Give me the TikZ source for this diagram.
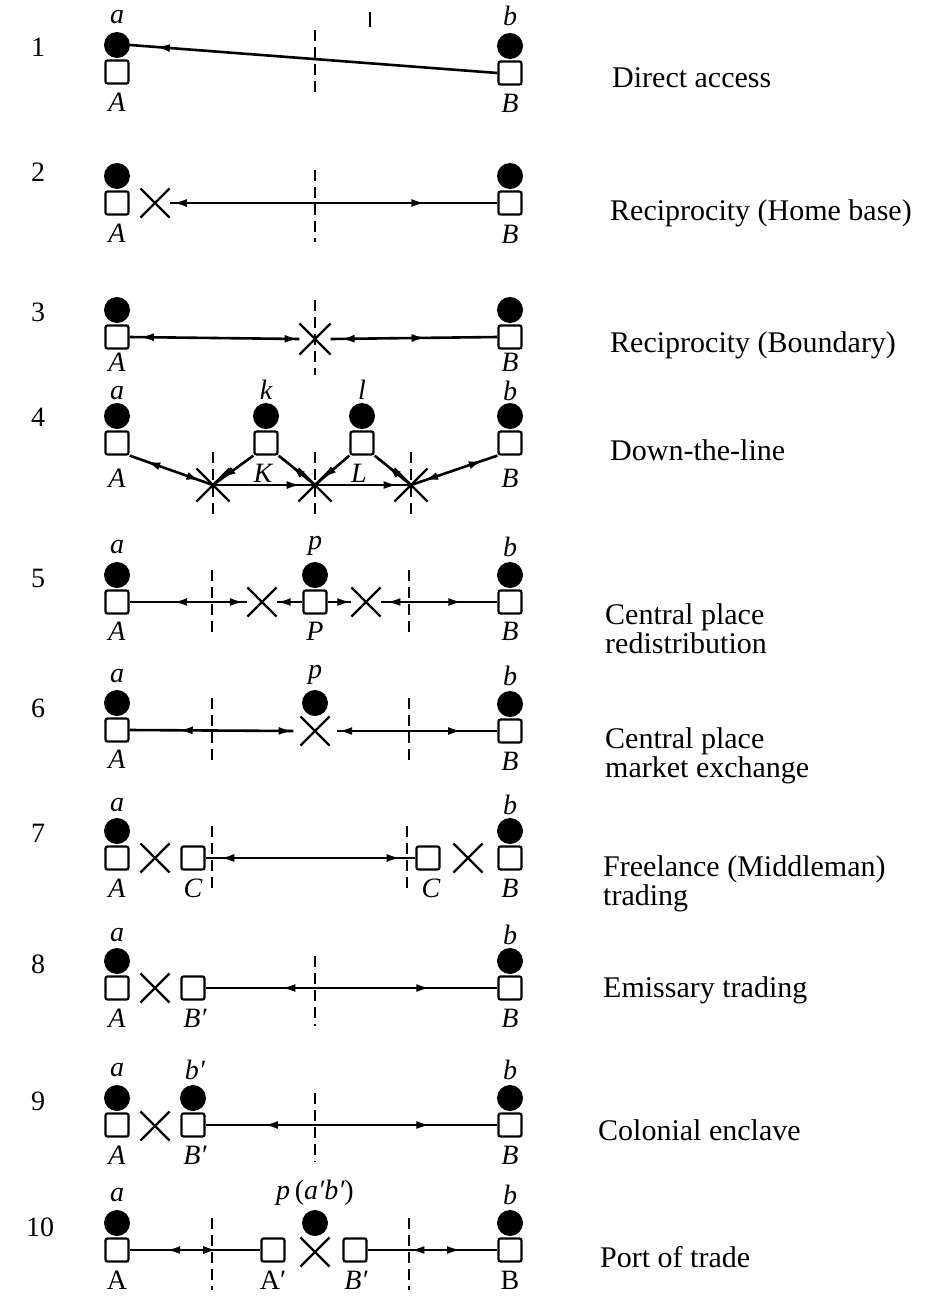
\documentclass[tikz,border=0pt]{standalone}
\usepackage{fontspec}
\setmainfont{Liberation Serif}
\usetikzlibrary{arrows.meta,decorations.markings,shapes.misc}
\tikzset{
 pers/.style={circle,fill=black,minimum size=26pt,inner sep=0pt},
 site/.style={draw,line width=2.2pt,minimum size=23pt,inner sep=0pt,rounded corners=2pt,fill=white},
 xmark/.style={cross out,draw,line width=2.2pt,minimum size=27pt,inner sep=0pt},
 lnk/.style={line width=2.6pt},
 bnd/.style={line width=2.2pt,dash pattern=on 11pt off 6pt},
 fw/.style={postaction={decorate,decoration={markings,mark=at position #1 with {\arrow{Latex[length=14pt,width=8pt]}}}}},
 bw/.style={postaction={decorate,decoration={markings,mark=at position #1 with {\arrowreversed{Latex[length=14pt,width=8pt]}}}}},
 lab/.style={font=\fontsize{28}{30}\selectfont\itshape,inner sep=0pt},
 ulab/.style={font=\fontsize{28}{30}\selectfont,inner sep=0pt},
 num/.style={font=\fontsize{28}{30}\selectfont,inner sep=0pt},
 desc/.style={font=\fontsize{30}{29}\selectfont,anchor=west,align=left,inner sep=0pt},
}
\begin{document}
\begin{tikzpicture}[x=1pt,y=-1pt]
\useasboundingbox (0,0) rectangle (936,1296);
% ---------- Row 1
\node[num] (n1) at (38,47) {1};
\node[pers] (r1a) at (117,45) {};
\node[site] (r1A) at (117,72) {};
\node[pers] (r1b) at (510,46) {};
\node[site] (r1B) at (510,73) {};
\node[lab] (l1a) at (117,17) {a};
\node[lab] (l1b) at (510,16) {b};
\node[lab] (l1A) at (117,102) {A};
\node[lab] (l1B) at (510,103) {B};
\draw[bnd] (315,30) -- (315,97);
\draw[line width=1.6pt] (370,12) -- (370,27);
\draw[lnk,fw=0.93] (r1B.west) -- (r1a.east);
\node[desc] (d1) at (612,78) {Direct access};
% ---------- Row 2
\node[num] (n2) at (38,172) {2};
\node[pers] (r2a) at (117,176) {};
\node[site] (r2A) at (117,203) {};
\node[pers] (r2b) at (510,176) {};
\node[site] (r2B) at (510,203) {};
\node[lab] (l2A) at (117,233) {A};
\node[lab] (l2B) at (510,234) {B};
\node[xmark] (r2x) at (155,203) {};
\draw[bnd] (315,170) -- (315,242);
\draw[lnk,bw=0.01,fw=0.78] (r2x.east) -- (r2B.west);
\node[desc] (d2) at (610,213) {Reciprocity (Home base)};
% ---------- Row 3
\node[num] (n3) at (38,312) {3};
\node[pers] (r3a) at (117,310) {};
\node[site] (r3A) at (117,337) {};
\node[pers] (r3b) at (510,310) {};
\node[site] (r3B) at (510,337) {};
\node[lab] (l3A) at (117,362) {A};
\node[lab] (l3B) at (510,362) {B};
\node[xmark,minimum size=29pt] (r3x) at (315,339) {};
\draw[bnd] (315,300) -- (315,375);
\draw[lnk,bw=0.06,fw=0.995] (r3A.east) -- (r3x.west);
\draw[lnk,bw=0.06,fw=0.57] (r3x.east) -- (r3B.west);
\node[desc] (d3) at (610,345) {Reciprocity (Boundary)};
% ---------- Row 4
\node[num] (n4) at (38,417) {4};
\node[pers] (r4a) at (117,416) {};
\node[site] (r4A) at (117,443) {};
\node[pers] (r4k) at (266,416) {};
\node[site] (r4K) at (266,443) {};
\node[pers] (r4l) at (362,416) {};
\node[site] (r4L) at (362,443) {};
\node[pers] (r4b) at (510,416) {};
\node[site] (r4B) at (510,443) {};
\node[lab] (l4a) at (117,393) {a};
\node[lab] (l4k) at (266,390) {k};
\node[lab] (l4l) at (362,390) {l};
\node[lab] (l4b) at (510,391) {b};
\node[lab] (l4A) at (117,478) {A};
\node[lab] (l4K) at (263,473) {K};
\node[lab] (l4L) at (359,473) {L};
\node[lab] (l4B) at (510,478) {B};
\node[xmark,minimum size=31pt] (r4x1) at (213,485) {};
\node[xmark,minimum size=31pt] (r4x2) at (315,485) {};
\node[xmark,minimum size=31pt] (r4x3) at (411,485) {};
\draw[bnd] (213,452) -- (213,520);
\draw[bnd] (315,452) -- (315,520);
\draw[bnd] (411,452) -- (411,520);
\draw[lnk,bw=0.2,fw=0.85] (r4A.south east) -- (r4x1.center);
\draw[lnk,fw=0.78] (r4K.south west) -- (r4x1.center);
\draw[lnk,bw=0.35] (r4K.south east) -- (r4x2.center);
\draw[lnk,fw=0.86] (r4x1.center) -- (r4x2.center);
\draw[lnk,fw=0.78] (r4L.south west) -- (r4x2.center);
\draw[lnk,bw=0.35] (r4L.south east) -- (r4x3.center);
\draw[lnk,fw=0.86] (r4x2.center) -- (r4x3.center);
\draw[lnk,bw=0.17,fw=0.85] (r4B.south west) -- (r4x3.center);
\node[desc] (d4) at (610,450) {Down-the-line};
% ---------- Row 5
\node[num] (n5) at (38,578) {5};
\node[pers] (r5a) at (117,575) {};
\node[site] (r5A) at (117,602) {};
\node[pers] (r5p) at (315,575) {};
\node[site] (r5P) at (315,602) {};
\node[pers] (r5b) at (510,575) {};
\node[site] (r5B) at (510,602) {};
\node[lab] (l5a) at (117,547) {a};
\node[lab] (l5p) at (315,546) {p};
\node[lab] (l5b) at (510,547) {b};
\node[lab] (l5A) at (117,631) {A};
\node[lab] (l5P) at (315,631) {P};
\node[lab] (l5B) at (510,631) {B};
\node[xmark] (r5x1) at (262,602) {};
\node[xmark] (r5x2) at (366,602) {};
\draw[bnd] (212,570) -- (212,635);
\draw[bnd] (409,570) -- (409,635);
\draw[lnk,bw=0.37,fw=0.97] (r5A.east) -- (r5x1.west);
\draw[lnk,fw=0.995] (r5P.west) -- (r5x1.east);
\draw[lnk,fw=0.995] (r5P.east) -- (r5x2.west);
\draw[lnk,bw=0.05,fw=0.7] (r5x2.east) -- (r5B.west);
\node[desc] (d5) at (605,629) {Central place\\redistribution};
% ---------- Row 6
\node[num] (n6) at (38,708) {6};
\node[pers] (r6a) at (117,703) {};
\node[site] (r6A) at (117,730) {};
\node[pers] (r6p) at (315,703) {};
\node[pers] (r6b) at (510,704) {};
\node[site] (r6B) at (510,731) {};
\node[lab] (l6a) at (117,676) {a};
\node[lab] (l6p) at (315,675) {p};
\node[lab] (l6b) at (510,676) {b};
\node[lab] (l6A) at (117,759) {A};
\node[lab] (l6B) at (510,761) {B};
\node[xmark] (r6x) at (315,731) {};
\draw[bnd] (212,698) -- (212,762);
\draw[bnd] (409,698) -- (409,762);
\draw[lnk,bw=0.3,fw=0.995] (r6A.east) -- ([xshift=-7pt]r6x.west);
\draw[lnk,bw=0.01,fw=0.78] ([xshift=7pt]r6x.east) -- (r6B.west);
\node[desc] (d6) at (605,756) {Central place\\market exchange};
% ---------- Row 7
\node[num] (n7) at (38,833) {7};
\node[pers] (r7a) at (117,831) {};
\node[site] (r7A) at (117,858) {};
\node[pers] (r7b) at (510,831) {};
\node[site] (r7B) at (510,858) {};
\node[site] (r7C1) at (193,858) {};
\node[site] (r7C2) at (428,858) {};
\node[xmark] (r7x1) at (155,858) {};
\node[xmark] (r7x2) at (468,858) {};
\node[lab] (l7a) at (117,805) {a};
\node[lab] (l7b) at (510,805) {b};
\node[lab] (l7A) at (117,888) {A};
\node[lab] (l7C1) at (193,888) {C};
\node[lab] (l7C2) at (431,888) {C};
\node[lab] (l7B) at (510,888) {B};
\draw[bnd] (212,826) -- (212,894);
\draw[bnd] (407,826) -- (407,894);
\draw[lnk,bw=0.07,fw=0.93] (r7C1.east) -- (r7C2.west);
\node[desc] (d7) at (603,884) {Freelance (Middleman)\\trading};
% ---------- Row 8
\node[num] (n8) at (38,964) {8};
\node[pers] (r8a) at (117,961) {};
\node[site] (r8A) at (117,988) {};
\node[pers] (r8b) at (510,961) {};
\node[site] (r8B) at (510,988) {};
\node[site] (r8Bp) at (193,988) {};
\node[xmark] (r8x) at (155,988) {};
\node[lab] (l8a) at (117,935) {a};
\node[lab] (l8b) at (510,935) {b};
\node[lab] (l8A) at (117,1018) {A};
\node[lab] (l8Bp) at (195,1018) {B′};
\node[lab] (l8B) at (510,1018) {B};
\draw[bnd] (315,956) -- (315,1026);
\draw[lnk,bw=0.26,fw=0.77] (r8Bp.east) -- (r8B.west);
\node[desc] (d8) at (603,990) {Emissary trading};
% ---------- Row 9
\node[num] (n9) at (38,1101) {9};
\node[pers] (r9a) at (117,1098) {};
\node[site] (r9A) at (117,1125) {};
\node[pers] (r9bp) at (193,1098) {};
\node[site] (r9Bp) at (193,1125) {};
\node[pers] (r9b) at (510,1098) {};
\node[site] (r9B) at (510,1125) {};
\node[xmark] (r9x) at (155,1126) {};
\node[lab] (l9a) at (117,1070) {a};
\node[lab] (l9bp) at (195,1070) {b′};
\node[lab] (l9b) at (510,1070) {b};
\node[lab] (l9A) at (117,1155) {A};
\node[lab] (l9Bp) at (195,1155) {B′};
\node[lab] (l9B) at (510,1155) {B};
\draw[bnd] (315,1093) -- (315,1162);
\draw[lnk,bw=0.2,fw=0.77] (r9Bp.east) -- (r9B.west);
\node[desc] (d9) at (598,1130) {Colonial enclave};
% ---------- Row 10
\node[num] (n10) at (40,1227) {10};
\node[pers] (r10a) at (117,1223) {};
\node[site] (r10A) at (117,1250) {};
\node[pers] (r10p) at (315,1223) {};
\node[site] (r10Ap) at (273,1250) {};
\node[xmark] (r10x) at (315,1252) {};
\node[site] (r10Bp) at (355,1250) {};
\node[pers] (r10b) at (510,1223) {};
\node[site] (r10B) at (510,1250) {};
\node[lab] (l10a) at (117,1195) {a};
\node[lab] (l10p) at (315,1193) {p\,{\upshape(}a′b′{\upshape)}};
\node[lab] (l10b) at (510,1195) {b};
\node[ulab] (l10A) at (117,1280) {A};
\node[ulab] (l10Ap) at (273,1280) {A′};
\node[lab] (l10Bp) at (356,1280) {B′};
\node[ulab] (l10B) at (510,1280) {B};
\draw[bnd] (212,1218) -- (212,1290);
\draw[bnd] (409,1218) -- (409,1290);
\draw[lnk,bw=0.28,fw=0.67] (r10A.east) -- (r10Ap.west);
\draw[lnk,bw=0.33,fw=0.72] (r10Bp.east) -- (r10B.west);
\node[desc] (d10) at (600,1257) {Port of trade};
\end{tikzpicture}
\end{document}
